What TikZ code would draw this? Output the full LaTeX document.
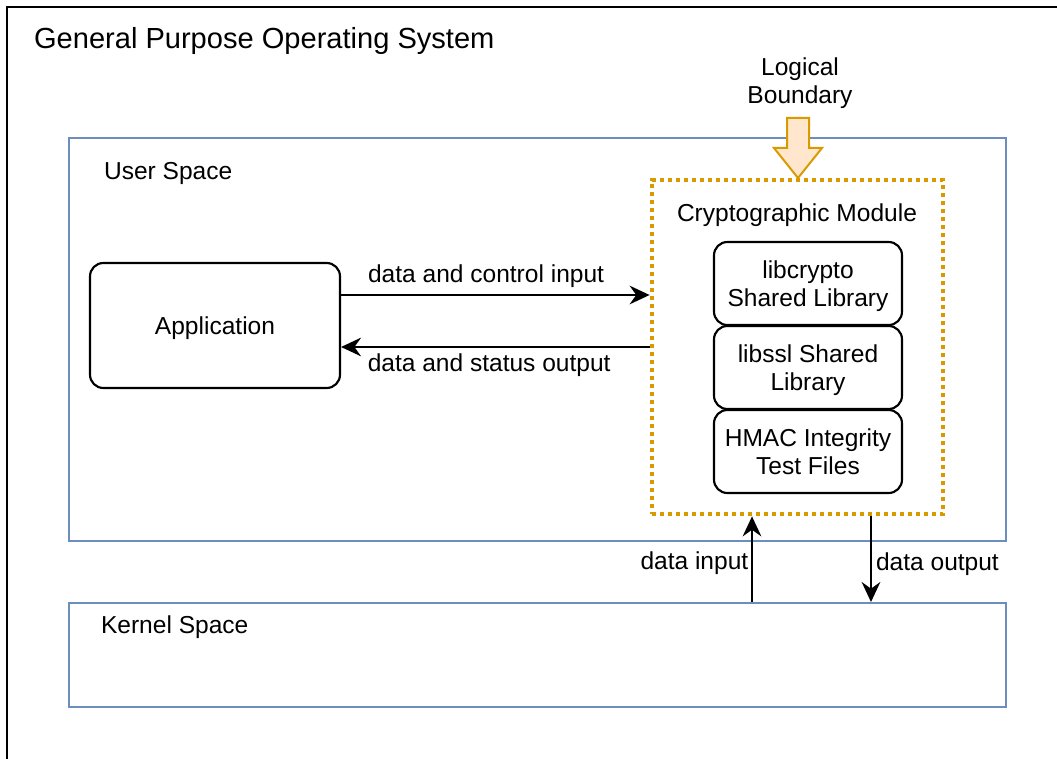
\documentclass[tikz,border=0pt]{standalone}
\usepackage{fontspec}
\setmainfont{Liberation Sans}
\usetikzlibrary{arrows.meta}

\definecolor{spaceblue}{RGB}{108,142,191}
\definecolor{bndorange}{RGB}{215,155,0}
\definecolor{bndfill}{RGB}{255,230,204}

\tikzset{every picture/.style={line width=1.6pt}}
\tikzset{
  spacebox/.style={draw=spaceblue, line width=1.5pt, minimum width=702.75pt},
  libbox/.style={draw, rounded corners=10pt, minimum width=141pt, minimum height=62.25pt, align=center, inner sep=0pt, text depth=0pt},
  flow/.style={-{Stealth[length=15pt, width=14pt, inset=5pt]}, line width=1.6pt},
  lbl/.style={inner sep=0pt, font=\fontsize{18.4}{21.5}\selectfont}
}

\begin{document}
\begin{tikzpicture}[x=0.75pt,y=0.75pt,yscale=-1,xscale=1]
\useasboundingbox (0,0) rectangle (1057,759);

%Straight Lines [id:frame] 
\draw    (1057,7) -- (7,7) -- (7,759) ;

% Text Node
\node (title) [anchor=west][inner sep=0pt, font=\fontsize{21.8}{25}\selectfont] at (33,41) {General Purpose Operating System};

%Shape: Rectangle [id:user] 
\node (user) [spacebox, minimum height=301.5pt] at (537.5,339.5) {};
%Shape: Rectangle [id:kernel] 
\node (kernel) [spacebox, minimum height=78pt] at (537.5,655) {};

% Text Node
\node (userlbl) [lbl, anchor=west] at (103,173) {User Space};
% Text Node
\node (kernellbl) [lbl, anchor=west] at (100,627) {Kernel Space};

%Rounded Rect [id:app] 
\node (app) [libbox, minimum width=187.5pt, minimum height=93.75pt, font=\fontsize{18.4}{21.5}\selectfont] at (215,325.5) {Application};

%Shape: Rectangle [id:crypto] 
\node (crypto) [draw=bndorange, line width=3.6pt, dash pattern=on 3.2pt off 2.8pt, minimum width=218.25pt, minimum height=250.5pt] at (797.5,347) {};

% Text Node
\node (cryptolbl) [lbl] at (797,215) {Cryptographic Module};

%Rounded Rect [id:libcrypto] 
\node (libcrypto) [libbox, font=\fontsize{18.4}{21.5}\selectfont] at (808,283.5) {libcrypto\\Shared Library};
%Rounded Rect [id:libssl] 
\node (libssl) [libbox, font=\fontsize{18.4}{21.5}\selectfont] at (808,367.5) {libssl Shared\\Library};
%Rounded Rect [id:hmac] 
\node (hmac) [libbox, font=\fontsize{18.4}{21.5}\selectfont] at (808,451.5) {HMAC Integrity\\Test Files};

% Text Node
\node (bnd) [lbl, align=center] at (800,83) {Logical\\Boundary};
%Down Arrow [id:bndarrow] 
\draw [draw=bndorange, fill=bndfill, line width=1.5pt, line join=miter]  (787,118) -- (809,118) -- (809,148) -- (822,148) -- (798,178) -- (774,148) -- (787,148) -- cycle ;

\coordinate (ctrl) at (0,295);
\coordinate (stat) at (0,347);
\coordinate (din) at (752,0);
\coordinate (dout) at (871,0);

%Straight Lines [id:ctrlin] 
\draw [flow]  (app.east |- ctrl) -- (crypto.west |- ctrl) node [lbl, pos=0.47, above=5pt] {data and control input} ;
%Straight Lines [id:statout] 
\draw [flow]  (crypto.west |- stat) -- (app.east |- stat) node [lbl, pos=0.52, below=4pt] {data and status output} ;
%Straight Lines [id:datain] 
\draw [flow]  (kernel.north -| din) -- (crypto.south -| din) node [lbl, midway, left=2pt, yshift=-3pt] {data input} ;
%Straight Lines [id:dataout] 
\draw [flow]  (crypto.south -| dout) -- (kernel.north -| dout) node [lbl, midway, right=3pt, yshift=-4pt] {data output} ;

\end{tikzpicture}
\end{document}
